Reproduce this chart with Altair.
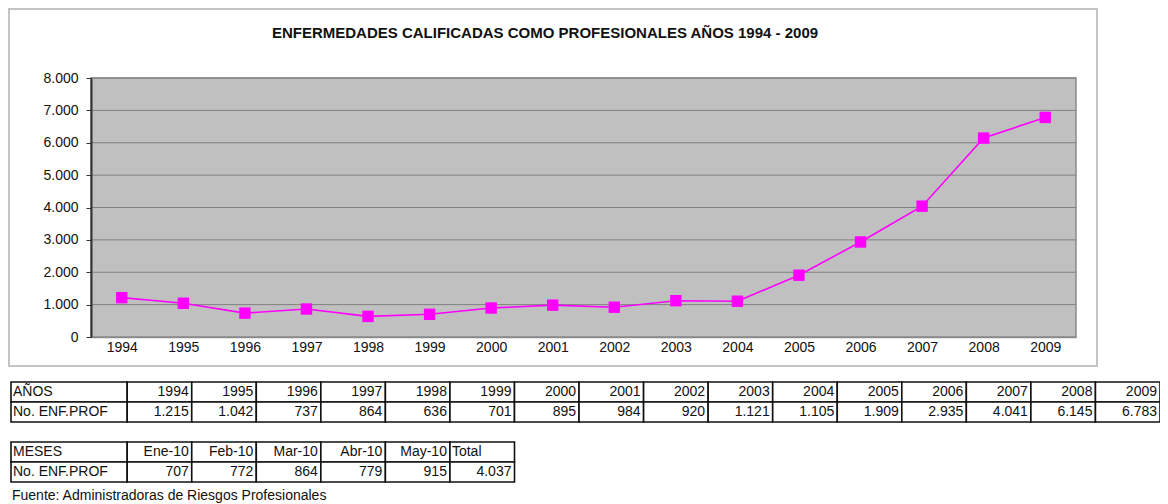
import altair as alt
import pandas as pd

# ---------------- data ----------------
years = [1994, 1995, 1996, 1997, 1998, 1999, 2000, 2001,
         2002, 2003, 2004, 2005, 2006, 2007, 2008, 2009]
cases = [1215, 1042, 737, 864, 636, 701, 895, 984,
         920, 1121, 1105, 1909, 2935, 4041, 6145, 6783]
months = ["Ene-10", "Feb-10", "Mar-10", "Abr-10", "May-10"]
month_cases = [707, 772, 864, 779, 915]
month_total = 4037
y_ticks = [0, 1000, 2000, 3000, 4000, 5000, 6000, 7000, 8000]
title_text = "ENFERMEDADES CALIFICADAS COMO PROFESIONALES AÑOS 1994 - 2009"
source_text = "Fuente: Administradoras de Riesgos Profesionales"
row_label_years = "AÑOS"
row_label_months = "MESES"
row_label_value = "No. ENF.PROF"
total_label = "Total"

# ---------------- layout constants ----------------
W, H = 1152, 496
PL, PR, PT, PB = 83, 1068, 70, 329          # plot area in view pixels
FRAME = (0, 1089, 0, 358)
FONT = "Liberation Sans"
FIRST_W = 1.80                               # width of label column in column units
TABLE_X_RANGE = [3, 1152]
TABLE_Y_RANGE = [374, 474]                   # rows 0..5
TABLE2_ROW0 = 3
SOURCE_ROW = 5.7

def fmt(v):
    return f"{v:,}".replace(",", ".")

# ---------------- line chart ----------------
series = pd.DataFrame({"year": [str(y) for y in years], "cases": cases})
grid_df = pd.DataFrame({"v": y_ticks[1:]})

yscale = alt.Scale(domain=[0, 8000], range=[PB, PT], nice=False, zero=True)
xscale = alt.Scale(type="point", range=[PL, PR], padding=0.5)

y_axis = alt.Axis(
    values=y_ticks, title=None, grid=False, offset=-PL, zindex=2,
    labelExpr="replace(format(datum.value, ','), ',', '.')",
    labelFont=FONT, labelFontSize=14, labelColor="#111111", labelPadding=8,
    tickSize=5, tickColor="#333333", tickWidth=1,
    domainColor="#333333", domainWidth=2,
)
x_axis = alt.Axis(
    title=None, offset=-(H - PB), zindex=2, labelAngle=0,
    labelFont=FONT, labelFontSize=14, labelColor="#111111", labelPadding=3,
    ticks=False, domainColor="#8a8a8a", domainWidth=1.5,
)

bg = alt.Chart(alt.Data(values=[{}])).mark_rect(
    fill="#C0C0C0", stroke="#8a8a8a", strokeWidth=1.5
).encode(
    x=alt.value(PL), x2=alt.value(PR),
    y=alt.Y(datum=0, type="quantitative", scale=yscale, axis=y_axis),
    y2=alt.Y2(datum=8000),
)

grid = alt.Chart(grid_df).mark_rule(color="#808080", strokeWidth=1).encode(
    x=alt.value(PL), x2=alt.value(PR),
    y=alt.Y("v:Q", scale=yscale, axis=y_axis),
)

line = alt.Chart(series).mark_line(color="#FF00FF", strokeWidth=1.6).encode(
    x=alt.X("year:O", scale=xscale, axis=x_axis, sort=None),
    y=alt.Y("cases:Q", scale=yscale, axis=y_axis),
)
pts = alt.Chart(series).mark_square(color="#FF00FF", size=130, opacity=1).encode(
    x=alt.X("year:O", scale=xscale, axis=x_axis, sort=None),
    y=alt.Y("cases:Q", scale=yscale, axis=y_axis),
)

plot_layer = alt.layer(bg, grid, line, pts)

# ---------------- tables ----------------
cells = []

def add_cell(row, col, text, align):
    if col == 0:
        x0, x1 = 0.0, FIRST_W
    else:
        x0, x1 = FIRST_W + col - 1, FIRST_W + col
    cells.append({"r0": row, "r1": row + 1, "rm": row + 0.5,
                  "x0": x0, "x1": x1, "text": text, "align": align})

add_cell(0, 0, row_label_years, "left")
add_cell(1, 0, row_label_value, "left")
for i, (y, v) in enumerate(zip(years, cases)):
    add_cell(0, i + 1, str(y), "right")
    add_cell(1, i + 1, fmt(v), "right")

add_cell(TABLE2_ROW0, 0, row_label_months, "left")
add_cell(TABLE2_ROW0 + 1, 0, row_label_value, "left")
for i, (m, v) in enumerate(zip(months, month_cases)):
    add_cell(TABLE2_ROW0, i + 1, m, "right")
    add_cell(TABLE2_ROW0 + 1, i + 1, fmt(v), "right")
add_cell(TABLE2_ROW0, len(months) + 1, total_label, "left")
add_cell(TABLE2_ROW0 + 1, len(months) + 1, fmt(month_total), "right")

cells_df = pd.DataFrame(cells)

tx = alt.Scale(domain=[0, FIRST_W + len(years)], range=TABLE_X_RANGE, nice=False, zero=False)
ty = alt.Scale(domain=[0, 5], range=TABLE_Y_RANGE, nice=False, zero=False)

rects = alt.Chart(cells_df).mark_rect(fill="white", stroke="#111111", strokeWidth=1.6).encode(
    x=alt.X("x0:Q", scale=tx, axis=None), x2="x1:Q",
    y=alt.Y("r0:Q", scale=ty, axis=None), y2="r1:Q",
)
txt_right = alt.Chart(cells_df).transform_filter("datum.align == 'right'").mark_text(
    align="right", baseline="middle", dx=-3, font=FONT, fontSize=14, color="#111111"
).encode(
    x=alt.X("x1:Q", scale=tx, axis=None),
    y=alt.Y("rm:Q", scale=ty, axis=None),
    text="text:N",
)
txt_left = alt.Chart(cells_df).transform_filter("datum.align == 'left'").mark_text(
    align="left", baseline="middle", dx=2, font=FONT, fontSize=14, color="#111111"
).encode(
    x=alt.X("x0:Q", scale=tx, axis=None),
    y=alt.Y("rm:Q", scale=ty, axis=None),
    text="text:N",
)
source = alt.Chart(alt.Data(values=[{"t": source_text}])).mark_text(
    align="left", baseline="middle", dx=1, font=FONT, fontSize=14, color="#111111"
).encode(
    x=alt.X(datum=0, type="quantitative", scale=tx, axis=None),
    y=alt.Y(datum=SOURCE_ROW, type="quantitative", scale=ty, axis=None),
    text="t:N",
)
table_layer = alt.layer(rects, txt_right, txt_left, source)

# ---------------- frame and title ----------------
frame = alt.Chart(alt.Data(values=[{}])).mark_rect(
    fill="white", stroke="#c4c4c4", strokeWidth=2
).encode(
    x=alt.value(FRAME[0] + 1), x2=alt.value(FRAME[1]),
    y=alt.value(FRAME[2] + 1), y2=alt.value(FRAME[3]),
)
title = alt.Chart(alt.Data(values=[{"t": title_text}])).mark_text(
    align="center", baseline="middle", font=FONT, fontSize=15, fontWeight="bold", color="#111111"
).encode(
    x=alt.value(537), y=alt.value(25), text="t:N",
)

chart = alt.layer(frame, title, plot_layer, table_layer).resolve_scale(
    x="independent", y="independent"
).properties(
    width=W, height=H, autosize=alt.AutoSizeParams(type="none"),
    padding={"left": 0, "top": 0, "right": 0, "bottom": 0},
).configure_view(stroke=None)

chart.save("out.html", embed_options={"renderer": "svg", "actions": False})
